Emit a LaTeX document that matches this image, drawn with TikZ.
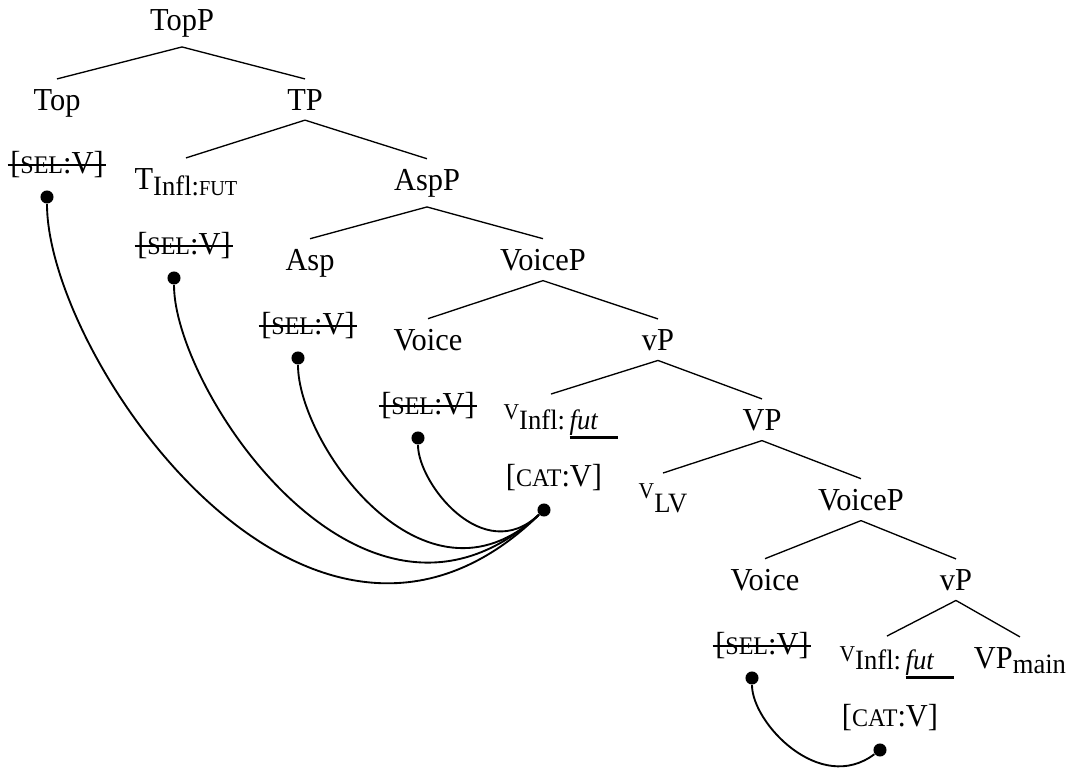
\documentclass[12pt,tikz,border=0pt]{standalone}
\usepackage{fontspec}
\setmainfont{Liberation Serif}[FakeStretch=0.95]
\usetikzlibrary{calc}
\newcommand{\fsc}[2][9.5]{{\fontsize{#1}{#1}\selectfont #2}}
\newcommand{\lsub}[2][2.6pt]{\raisebox{-#1}{\fontsize{10.5}{12}\selectfont #2}}
\newcommand{\futbar}{\rlap{\rule[-3.9pt]{18pt}{1.1pt}}\textit{fut}}
\tikzset{
  cat/.style={
    anchor = base,
    inner sep = 3.6pt
  },
  feat/.style={
    inner xsep = 1pt,
    inner ysep = 2pt
  },
  struck/.style={
    feat,
    path picture={
      \draw[line width=1.1pt] (path picture bounding box.west) -- (path picture bounding box.east);
    }
  },
  dot/.style={
    shape = circle,
    fill,
    inner sep = 0pt,
    minimum size = 4.9pt
  },
  branch/.style={line width=0.5pt},
  agree/.style={line width=0.7pt}
}

\begin{document}
\begin{tikzpicture}[x=0.375pt,y=-0.375pt]
    \useasboundingbox (0,0) rectangle (1074,769);
    % tree
    \node[cat] (topp) at (182,30) {TopP};
    \node[cat] (top) at (57,110) {Top};
    \node[cat] (tp) at (305,110) {TP};
    \node[cat] (tinfl) at (186,189) {T\lsub{Infl:\fsc[8]{FUT}}};
    \node[cat] (aspp) at (427,190) {AspP};
    \node[cat] (asp) at (310,270) {Asp};
    \node[cat] (voicepa) at (543,270) {VoiceP};
    \node[cat] (voicea) at (428,350) {Voice};
    \node[cat] (vpa) at (658,350) {vP};
    \node[cat] (vinfla) at (551,419) {\fsc[8.5]{V}\lsub[3.75pt]{Infl:\,\futbar}};
    \node[cat] (vpb) at (762,430) {VP};
    \node[cat] (vlv) at (663,498) {\fsc[8.5]{V}\lsub[5.6pt]{LV}};
    \node[cat] (voicepb) at (861,510) {VoiceP};
    \node[cat] (voiceb) at (765,590) {Voice};
    \node[cat] (vpc) at (956,590) {vP};
    \node[cat] (vinflb) at (887,661) {\fsc[8.5]{V}\lsub[3pt]{Infl:\,\futbar}};
    \node[cat] (vpmain) at (1020,668) {VP\lsub[1.9pt]{main}};
    \foreach \p/\c in {topp/top,topp/tp,tp/tinfl,tp/aspp,aspp/asp,aspp/voicepa,
        voicepa/voicea,voicepa/vpa,vpa/vinfla,vpa/vpb,vpb/vlv,vpb/voicepb,
        voicepb/voiceb,voicepb/vpc,vpc/vinflb,vpc/vpmain}{
            \draw[branch] (\p.south) -- (\c.north);
        }
    % features
    \node[struck] (sela) at (57,165) {[\fsc{SEL}:V]};
    \node[struck] (selb) at (184,246) {[\fsc{SEL}:V]};
    \node[struck] (selc) at (308,326) {[\fsc{SEL}:V]};
    \node[struck] (seld) at (428,406) {[\fsc{SEL}:V]};
    \node[struck] (sele) at (762,646) {[\fsc{SEL}:V]};
    \node[feat] (cata) at (554,478) {[\fsc{CAT}:V]};
    \node[feat] (catb) at (890,718) {[\fsc{CAT}:V]};
    \foreach \f in {sela,selb,selc,seld,sele,cata,catb}{
            \node[dot] (d\f) at ($(\f)+(-10,32)$) {};
        }
    % agreement arcs
    \draw[agree] (dsela) .. controls +(0,160) and +(-235,228) .. (dcata);
    \draw[agree] (dselb) .. controls +(0,112) and +(-180,165) .. (dcata);
    \draw[agree] (dselc) .. controls +(0,85) and +(-120,112) .. (dcata);
    \draw[agree] (dseld) .. controls +(0,45) and +(-61,57) .. (dcata);
    \draw[agree] (dsele) .. controls +(0,45) and +(-60,45) .. (dcatb);
\end{tikzpicture}
\end{document}
